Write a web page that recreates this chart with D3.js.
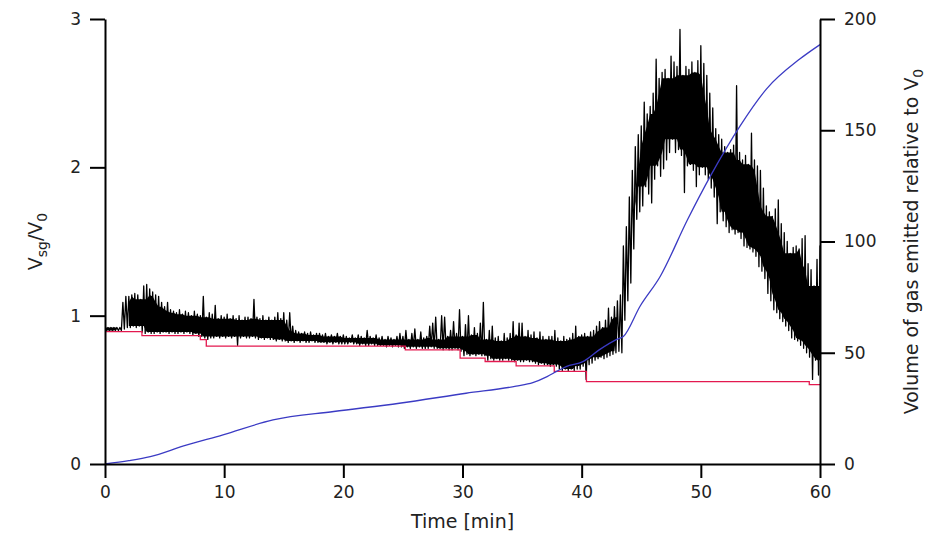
<!DOCTYPE html>
<html>
<head>
<meta charset="utf-8">
<script src="https://cdn.jsdelivr.net/npm/d3@7"></script>
<style>
  body { margin: 0; background: #fff; }
  svg { display: block; }
  text { font-family: "DejaVu Sans", Verdana, sans-serif; fill: #222; }
</style>
</head>
<body>
<svg id="chart" width="933" height="536"></svg>
<script>
// Superficial gas velocity ratio, stored as min/max pairs every 0.25 min (0 .. 60 min)
const sampleStep = 0.25;
const ratioHigh = [
  0.92,0.92,0.92,0.92, 0.92,0.92,1.09,1.13, 1.13,1.14,1.15,1.14, 1.11,1.20,1.21,1.18,
  1.16,1.14,1.13,1.09, 1.06,1.09,1.04,1.03, 1.02,1.04,1.01,1.03, 1.02,1.00,1.03,1.01,
  1.00,1.13,0.99,1.02, 1.01,1.07,0.98,1.00, 0.99,1.01,0.98,1.00, 0.98,1.00,0.97,0.99,
  0.99,0.98,1.11,0.99, 0.98,1.00,0.97,0.99, 0.97,0.99,1.02,0.98, 1.02,0.97,1.02,0.93,
  0.90,0.89,0.88,0.89, 0.88,0.89,0.87,0.88, 0.88,0.87,0.88,0.86, 0.87,0.86,0.88,0.86,
  0.87,0.86,0.85,0.87, 0.85,0.87,0.86,0.85, 0.90,0.86,0.85,0.87, 0.85,0.86,0.84,0.86,
  0.85,0.84,0.86,0.88, 0.86,0.90,0.84,0.88, 0.91,0.84,0.89,0.85, 0.86,0.93,0.95,0.99,
  0.84,1.00,0.99,0.86, 0.90,0.96,0.88,1.04, 0.86,0.94,1.00,0.87, 0.92,0.88,0.95,1.09,
  0.84,0.90,0.93,0.85, 0.86,0.83,0.88,0.85, 0.88,0.96,0.87,0.95, 0.95,0.86,0.90,0.87,
  0.89,0.85,0.89,0.86, 0.84,0.86,0.86,0.90, 0.85,0.83,0.86,0.84, 0.85,0.88,0.93,0.86,
  0.87,0.88,0.86,0.89, 0.90,0.93,0.96,0.92, 0.97,1.05,0.99,1.06, 1.10,1.14,1.47,1.60,
  1.80,1.98,2.14,2.22, 2.28,2.44,2.36,2.41, 2.50,2.73,2.60,2.64, 2.66,2.60,2.75,2.71,
  2.68,2.93,2.62,2.68, 2.66,2.71,2.64,2.72, 2.82,2.70,2.62,2.50, 2.40,2.26,2.22,2.19,
  2.14,2.10,2.12,2.15, 2.55,2.10,2.05,2.08, 2.02,2.23,2.05,2.01, 1.98,1.86,1.74,1.70,
  1.67,1.72,1.78,1.62, 1.56,1.50,1.42,1.46, 1.47,1.45,1.52,1.54, 1.35,1.31,1.20,1.38,
  1.47
];
const ratioLow = [
  0.90,0.90,0.90,0.90, 0.90,0.90,0.91,0.92, 0.92,0.93,0.92,0.93, 0.89,0.88,0.89,0.88,
  0.88,0.89,0.88,0.89, 0.89,0.88,0.89,0.88, 0.88,0.89,0.88,0.89, 0.88,0.87,0.88,0.86,
  0.86,0.85,0.84,0.85, 0.85,0.86,0.85,0.86, 0.85,0.86,0.85,0.86, 0.80,0.85,0.86,0.85,
  0.85,0.86,0.85,0.84, 0.85,0.84,0.85,0.84, 0.84,0.83,0.84,0.83, 0.83,0.82,0.83,0.82,
  0.83,0.82,0.83,0.82, 0.82,0.83,0.82,0.82, 0.82,0.82,0.81,0.82, 0.81,0.82,0.81,0.81,
  0.81,0.81,0.82,0.81, 0.81,0.80,0.81,0.80, 0.80,0.81,0.80,0.80, 0.80,0.80,0.79,0.80,
  0.79,0.80,0.79,0.79, 0.78,0.79,0.78,0.79, 0.78,0.79,0.78,0.78, 0.78,0.79,0.78,0.78,
  0.78,0.77,0.78,0.77, 0.77,0.78,0.77,0.76, 0.73,0.74,0.73,0.74, 0.73,0.74,0.73,0.73,
  0.70,0.71,0.70,0.71, 0.70,0.70,0.71,0.70, 0.70,0.69,0.70,0.69, 0.69,0.70,0.69,0.69,
  0.68,0.67,0.68,0.67, 0.67,0.66,0.67,0.66, 0.64,0.63,0.64,0.63, 0.64,0.63,0.64,0.64,
  0.66,0.57,0.67,0.68, 0.70,0.71,0.72,0.71, 0.72,0.73,0.74,0.75, 0.76,0.75,0.97,1.10,
  1.22,1.45,1.65,1.70, 1.74,1.87,1.82,1.76, 1.92,2.01,1.94,1.99, 2.05,2.10,2.19,2.10,
  2.12,2.08,1.83,2.01, 2.02,1.98,1.87,1.95, 2.00,1.95,1.92,1.86, 1.80,1.62,1.70,1.64,
  1.60,1.56,1.58,1.55, 1.56,1.52,1.47,1.46, 1.45,1.43,1.40,1.33, 1.30,1.25,1.15,1.10,
  1.04,1.02,0.98,0.96, 0.93,0.90,0.85,0.84, 0.83,0.80,0.78,0.75, 0.72,0.57,0.70,0.60,
  0.57
];

// Stepwise ratio (left axis)
const stepTimes  = [0, 3.1, 8.0, 8.5, 25.2, 29.8, 31.9, 34.5, 37.7, 40.4, 59.1, 60];
const stepValues = [0.892, 0.865, 0.838, 0.795, 0.770, 0.714, 0.691, 0.662, 0.624, 0.556, 0.535, 0.535];

// Cumulative gas volume relative to V0 (right axis)
const gasTimes  = [0, 2, 3.8, 6.6, 9.9, 14.1, 19.2, 24.7, 30.3, 34.5, 35.9, 37.1, 37.9, 38.7,
                   40.1, 41.5, 42.9, 43.5, 44.9, 46.6, 48.9, 50.8, 53.3, 55.5, 58.3, 60];
const gasValues = [0, 1.5, 3.3, 8.1, 13.1, 19.8, 23.6, 27.3, 31.8, 35.0, 36.6, 39.3, 41.6, 43.8,
                   46.0, 51.4, 55.9, 57.3, 70.9, 84.4, 110, 129.4, 152, 168.5, 182, 188.5];

const timeTicks  = [0, 10, 20, 30, 40, 50, 60];
const ratioTicks = [0, 1, 2, 3];
const gasTicks   = [0, 50, 100, 150, 200];

const W = 933, H = 536;
const margin = { top: 19, right: 113, bottom: 72, left: 105 };
const svg = d3.select("#chart");

const x = d3.scaleLinear().domain([0, 60]).range([margin.left, W - margin.right]);
const yL = d3.scaleLinear().domain([0, 3]).range([H - margin.bottom, margin.top]);
const yR = d3.scaleLinear().domain([0, 200]).range([H - margin.bottom, margin.top]);

svg.append("defs").append("clipPath").attr("id", "plot")
  .append("rect")
  .attr("x", margin.left).attr("y", margin.top - 5)
  .attr("width", x(60) - x(0)).attr("height", yL(0) - yL(3) + 10);

const plot = svg.append("g").attr("clip-path", "url(#plot)");

// dense core of the trace: the range every neighbouring sample passes through
const n = ratioHigh.length;
const core = d3.range(n).map(i => {
  const a = Math.max(0, i - 2), b = Math.min(n - 1, i + 2);
  return {
    t: i * sampleStep,
    top: d3.min(ratioHigh.slice(a, b + 1)),
    bot: d3.max(ratioLow.slice(a, b + 1))
  };
});
plot.append("path")
  .attr("d", d3.area()
    .defined(d => d.top > d.bot)
    .x(d => x(d.t)).y0(d => yL(d.bot)).y1(d => yL(d.top))(core))
  .attr("fill", "#000");

// noisy ratio trace: max then min inside each sampling interval
const tracePts = [];
ratioHigh.forEach((h, i) => {
  const t = i * sampleStep;
  tracePts.push([t, h]);
  tracePts.push([t + sampleStep / 2, ratioLow[i]]);
});
plot.append("path")
  .attr("d", d3.line().x(d => x(d[0])).y(d => yL(d[1]))(tracePts))
  .attr("fill", "none").attr("stroke", "#000").attr("stroke-width", 1.3)
  .attr("stroke-linejoin", "round");

svg.append("path")
  .attr("d", d3.line().curve(d3.curveStepAfter)
    .x((d, i) => x(stepTimes[i])).y(d => yL(d))(stepValues))
  .attr("fill", "none").attr("stroke", "#e3194f").attr("stroke-width", 1.3);

svg.append("path")
  .attr("d", d3.line().curve(d3.curveMonotoneX)
    .x((d, i) => x(gasTimes[i])).y(d => yR(d))(gasValues))
  .attr("fill", "none").attr("stroke", "#3b3bc4").attr("stroke-width", 1.3);

// axes
function styleAxis(g) {
  g.select(".domain").attr("stroke", "#000").attr("stroke-width", 2);
  g.selectAll(".tick line").attr("stroke", "#000").attr("stroke-width", 2);
  g.selectAll(".tick text").style("font-size", "17px").attr("fill", "#222");
}
svg.append("g").attr("transform", `translate(0,${yL(0)})`)
  .call(d3.axisBottom(x).tickValues(timeTicks).tickFormat(d3.format("d"))
    .tickSize(14).tickPadding(8).tickSizeOuter(0))
  .call(styleAxis);
svg.append("g").attr("transform", `translate(${x(0)},0)`)
  .call(d3.axisLeft(yL).tickValues(ratioTicks).tickFormat(d3.format("d"))
    .tickSize(15).tickPadding(9).tickSizeOuter(0))
  .call(styleAxis);
svg.append("g").attr("transform", `translate(${x(60)},0)`)
  .call(d3.axisRight(yR).tickValues(gasTicks).tickFormat(d3.format("d"))
    .tickSize(15).tickPadding(9).tickSizeOuter(0))
  .call(styleAxis);

// titles
svg.append("text")
  .attr("x", (x(0) + x(60)) / 2).attr("y", 528)
  .attr("text-anchor", "middle").style("font-size", "19px")
  .text("Time [min]");

const lt = svg.append("text")
  .attr("transform", `translate(42,${(yL(0) + yL(3)) / 2}) rotate(-90)`)
  .attr("text-anchor", "middle").style("font-size", "19px");
lt.append("tspan").text("V");
lt.append("tspan").attr("dy", 5).style("font-size", "14px").text("sg");
lt.append("tspan").attr("dy", -5).text("/V");
lt.append("tspan").attr("dy", 5).style("font-size", "14px").text("0");

const rt = svg.append("text")
  .attr("transform", `translate(918,${(yR(0) + yR(200)) / 2}) rotate(-90)`)
  .attr("text-anchor", "middle").style("font-size", "19px");
rt.append("tspan").text("Volume of gas emitted relative to V");
rt.append("tspan").attr("dy", 5).style("font-size", "14px").text("0");
</script>
</body>
</html>
